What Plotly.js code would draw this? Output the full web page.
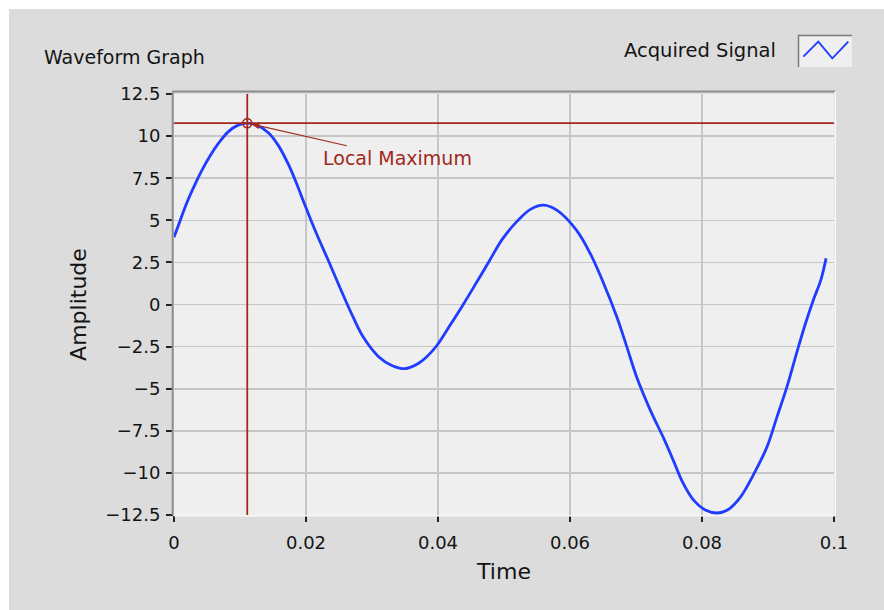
<!DOCTYPE html>
<html>
<head>
<meta charset="utf-8">
<script src="https://cdn.plot.ly/plotly-3.0.1.min.js"></script>
<style>
  html, body { margin: 0; padding: 0; background: #ffffff; width: 884px; height: 610px; overflow: hidden; }
  #chart { position: absolute; left: 9px; top: 9px; width: 875px; height: 601px; }
</style>
</head>
<body>
<div id="chart"></div>
<script>
// ---- Data ----
const time = [0, 0.0009, 0.0019, 0.0032, 0.0042, 0.0055, 0.0067, 0.0082, 0.0097, 0.0111,
  0.0125, 0.0143, 0.0158, 0.0173, 0.0183, 0.0199, 0.0216, 0.0234, 0.0252, 0.0272,
  0.0287, 0.0310, 0.0330, 0.0350, 0.0368, 0.0383, 0.0398, 0.0418, 0.0439, 0.0459,
  0.0478, 0.0497, 0.0520, 0.0540, 0.0560, 0.0580, 0.0610, 0.0631, 0.0651, 0.0671,
  0.0686, 0.0701, 0.0722, 0.0742, 0.0757, 0.0770, 0.0787, 0.0805, 0.0823, 0.0838,
  0.0858, 0.0878, 0.0898, 0.0913, 0.0929, 0.0944, 0.0957, 0.0969, 0.0980, 0.0988];
const amplitude = [4.0, 4.95, 6.0, 7.15, 7.95, 8.85, 9.55, 10.25, 10.65, 10.77,
  10.66, 10.2, 9.45, 8.35, 7.45, 5.85, 4.2, 2.6, 0.95, -0.8,
  -1.95, -3.1, -3.62, -3.81, -3.55, -3.1, -2.45, -1.25, 0.05, 1.35,
  2.6, 3.85, 4.95, 5.65, 5.9, 5.6, 4.4, 3.0, 1.25, -0.74,
  -2.5, -4.3, -6.3, -7.95, -9.3, -10.5, -11.6, -12.2, -12.38, -12.22,
  -11.45, -10.1, -8.5, -6.75, -4.85, -2.8, -1.1, 0.3, 1.45, 2.74];
const seriesName = "Acquired Signal";
const chartTitle = "Waveform Graph";
const xTitle = "Time";
const yTitle = "Amplitude";
const cursorLabel = "Local Maximum";
const xTickVals = [0, 0.02, 0.04, 0.06, 0.08, 0.1];
const yTickVals = [12.5, 10, 7.5, 5, 2.5, 0, -2.5, -5, -7.5, -10, -12.5];

// ---- cursor at the local maximum ----
let iMax = 0;
for (let i = 1; i < amplitude.length; i++) if (amplitude[i] > amplitude[iMax]) iMax = i;
const tMax = time[iMax], vMax = amplitude[iMax];

// ---- layout helpers (page px -> paper) ----
const M = {l: 165, r: 50, t: 85, b: 95};
const W = 875 - M.l - M.r, H = 601 - M.t - M.b;
const px = x => (x - 9 - M.l) / W;
const py = y => 1 - (y - 9 - M.t) / H;

const red = "#a3281c";
const blue = "#1f3cff";
const fontFam = "DejaVu Sans, Verdana, sans-serif";

const traces = [
  {
    x: time, y: amplitude, type: "scatter", mode: "lines", name: seriesName,
    line: {color: blue, width: 2.8, shape: "spline", smoothing: 1},
    showlegend: false, hoverinfo: "x+y"
  },
  {
    x: [tMax], y: [vMax], type: "scatter", mode: "markers", showlegend: false,
    marker: {symbol: "circle-open", size: 9, color: red, line: {width: 1.6, color: red}}
  }
];

const shapes = [
  // cursor cross-hair
  {type: "line", xref: "x", yref: "paper", x0: tMax, x1: tMax, y0: 0, y1: 1, line: {color: red, width: 1.8}, layer: "above"},
  {type: "line", xref: "paper", yref: "y", x0: 0, x1: 1, y0: vMax, y1: vMax, line: {color: red, width: 1.8}, layer: "above"},
  // plot-area inset frame
  {type: "line", xref: "paper", yref: "paper", x0: -0.002, x1: -0.002, y0: 0, y1: 1.006, line: {color: "#8c8c8c", width: 2}},
  {type: "line", xref: "paper", yref: "paper", x0: -0.002, x1: 1.002, y0: 1.006, y1: 1.006, line: {color: "#8c8c8c", width: 2}},
  {type: "line", xref: "paper", yref: "paper", x0: 0, x1: 1.002, y0: -0.002, y1: -0.002, line: {color: "#f8f8f8", width: 1.5}},
  {type: "line", xref: "paper", yref: "paper", x0: 1.002, x1: 1.002, y0: 0, y1: 1.006, line: {color: "#f8f8f8", width: 1.5}},
  // legend glyph box
  {type: "rect", xref: "paper", yref: "paper", x0: px(798), x1: px(852), y0: py(67), y1: py(35),
   fillcolor: "#efefef", line: {width: 0}},
  {type: "line", xref: "paper", yref: "paper", x0: px(798), x1: px(852), y0: py(35.5), y1: py(35.5), line: {color: "#7a7a7a", width: 1.5}},
  {type: "line", xref: "paper", yref: "paper", x0: px(798.5), x1: px(798.5), y0: py(35), y1: py(67), line: {color: "#7a7a7a", width: 1.5}},
  {type: "path", xref: "paper", yref: "paper",
   path: "M " + px(803.3) + "," + py(56.7) + " L " + px(818.3) + "," + py(41.7) + " L " + px(832.3) + "," + py(58.3) + " L " + px(848.3) + "," + py(41.7),
   line: {color: blue, width: 1.8}}
];

const annotations = [
  {x: tMax, y: vMax, xref: "x", yref: "y", text: "", showarrow: true, ax: 101, ay: 23,
   arrowhead: 2, arrowsize: 1.2, arrowwidth: 1.2, arrowcolor: red, standoff: 5},
  {x: tMax, y: vMax, xref: "x", yref: "y", text: cursorLabel, showarrow: false,
   xanchor: "left", yanchor: "middle", xshift: 74, yshift: -35,
   font: {family: fontFam, size: 19, color: red}},
  {x: px(778), y: py(50), xref: "paper", yref: "paper", text: seriesName, showarrow: false,
   xanchor: "right", yanchor: "middle", font: {family: fontFam, size: 19.5, color: "#141414"}}
];

const layout = {
  width: 875, height: 601,
  margin: M,
  paper_bgcolor: "#dcdcdc",
  plot_bgcolor: "#efefef",
  font: {family: fontFam, size: 18, color: "#141414"},
  title: {text: chartTitle, xref: "container", yref: "container", x: 35 / 875, xanchor: "left",
          y: 1 - (57.5 - 9) / 601, yanchor: "middle", font: {family: fontFam, size: 19, color: "#141414"}},
  showlegend: false,
  xaxis: {
    range: [0, 0.1], tickvals: xTickVals, ticktext: xTickVals.map(v => String(v)),
    showgrid: true, gridcolor: "#c6c6c6", gridwidth: 1.6, zeroline: false,
    ticks: "outside", ticklen: 6, tickwidth: 1.6, tickcolor: "#222",
    ticklabelstandoff: 5,
    showline: false, fixedrange: true,
    title: {text: xTitle, standoff: 12, font: {family: fontFam, size: 22, color: "#141414"}}
  },
  yaxis: {
    range: [-12.5, 12.5], tickvals: yTickVals,
    showgrid: true, gridcolor: "#c6c6c6", gridwidth: 1.6, zeroline: false,
    ticks: "outside", ticklen: 7, tickwidth: 2, tickcolor: "#222",
    ticklabelstandoff: 2,
    showline: false, fixedrange: true,
    title: {text: yTitle, standoff: 12, font: {family: fontFam, size: 22, color: "#141414"}}
  },
  shapes: shapes,
  annotations: annotations
};

Plotly.newPlot("chart", traces, layout, {displayModeBar: false, staticPlot: true});
</script>
</body>
</html>
